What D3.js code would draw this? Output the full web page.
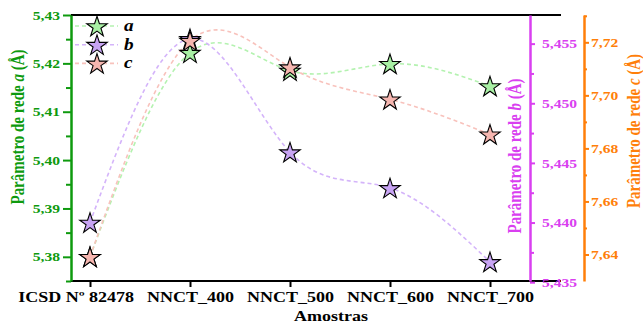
<!DOCTYPE html>
<html><head><meta charset="utf-8">
<script src="https://cdn.jsdelivr.net/npm/d3@7/dist/d3.min.js"></script>
<style>body{margin:0;background:#fff}svg{display:block}
svg text{font-family:"Liberation Serif","Times New Roman","DejaVu Serif",serif !important;font-weight:bold}</style>
</head><body>
<script>
const categories = ["ICSD Nº 82478","NNCT_400","NNCT_500","NNCT_600","NNCT_700"];
const seriesA = [5.3800, 5.4222, 5.4185, 5.4199, 5.4153];
const seriesB = [5.4400, 5.4554, 5.4459, 5.4429, 5.4367];
const seriesC = [7.6391, 7.7206, 7.7106, 7.6985, 7.6853];
const ticksA = [5.38, 5.39, 5.40, 5.41, 5.42, 5.43];
const ticksB = [5.435, 5.440, 5.445, 5.450, 5.455];
const ticksC = [7.64, 7.66, 7.68, 7.70, 7.72];
const fmt2 = v => v.toFixed(2).replace(".", ",");
const fmt3 = v => v.toFixed(3).replace(".", ",");

const W = 643, H = 324, SX = 1.2;
const pTop = 15, pBottom = 281, pLeft = 71, frameRight = 561, axB = 530, axC = 584;
const green = "#0e9a0e", magenta = "#d93ff0", orange = "#ff7f0a";

const svg = d3.select("body").append("svg").attr("width", W).attr("height", H);

const x = d3.scaleLinear().domain([0, 4]).range([90, 490]);
const yA = d3.scaleLinear().domain([5.375, 5.43]).range([pBottom, pTop]);
const yB = d3.scaleLinear().domain([5.4351, 5.4574]).range([pBottom, pTop]);
const yC = d3.scaleLinear().domain([7.63, 7.7303]).range([pBottom, pTop]);

svg.append("line").attr("x1", pLeft).attr("x2", frameRight).attr("y1", pTop).attr("y2", pTop).attr("stroke", "#000").attr("stroke-width", 2);

// X axis
const xAxis = svg.append("g").attr("transform", `translate(0,${pBottom})`)
  .call(d3.axisBottom(x).tickValues([0,1,2,3,4]).tickFormat(i => categories[i]).tickSize(6).tickPadding(2).tickSizeOuter(0));
xAxis.select(".domain").remove();
xAxis.selectAll(".tick line").attr("stroke", "#000").attr("stroke-width", 2);
xAxis.selectAll(".tick text").attr("font-size", 15).attr("fill", "#000").attr("dy", "0.9em")
  .attr("transform", `scale(${SX},1)`).attr("x", (d, i) => i === 0 ? -12 : 0);
svg.append("line").attr("x1", pLeft).attr("x2", frameRight).attr("y1", pBottom).attr("y2", pBottom).attr("stroke", "#000").attr("stroke-width", 2);

// left axis A
const minorA = d3.range(0, 12).map(i => 5.375 + i * 0.005).filter(v => !ticksA.some(t => Math.abs(t - v) < 1e-6));
const gA = svg.append("g").attr("transform", `translate(${pLeft},0)`);
gA.call(d3.axisLeft(yA).tickValues(minorA).tickSize(5).tickFormat("").tickSizeOuter(0));
gA.select(".domain").attr("stroke", green).attr("stroke-width", 2.5);
gA.selectAll(".tick line").attr("stroke", green).attr("stroke-width", 2);
const gA2 = svg.append("g").attr("transform", `translate(${pLeft},0)`)
  .call(d3.axisLeft(yA).tickValues(ticksA).tickFormat(fmt2).tickSize(8).tickSizeOuter(0));
gA2.select(".domain").remove();
gA2.selectAll(".tick line").attr("stroke", green).attr("stroke-width", 2);
gA2.selectAll(".tick text").attr("fill", green).attr("font-size", 13).attr("x", -11 / SX)
  .attr("transform", `scale(${SX},1)`);

// magenta axis B
const minorB = d3.range(0, 5).map(i => 5.4375 + i * 0.005).filter(v => v < 5.4574);
const gB = svg.append("g").attr("transform", `translate(${axB},0)`);
gB.call(d3.axisRight(yB).tickValues(minorB).tickSize(4).tickFormat("").tickSizeOuter(0));
gB.select(".domain").attr("stroke", magenta).attr("stroke-width", 2.5);
gB.selectAll(".tick line").attr("stroke", magenta).attr("stroke-width", 2);
const gB2 = svg.append("g").attr("transform", `translate(${axB},0)`)
  .call(d3.axisRight(yB).tickValues(ticksB).tickFormat(fmt3).tickSize(5).tickSizeOuter(0));
gB2.select(".domain").remove();
gB2.selectAll(".tick line").attr("stroke", magenta).attr("stroke-width", 2);
gB2.selectAll(".tick text").attr("fill", magenta).attr("font-size", 13).attr("x", 12 / SX)
  .attr("transform", `scale(${SX},1)`);

// orange axis C
const minorC = d3.range(0, 5).map(i => 7.65 + i * 0.02);
const gC = svg.append("g").attr("transform", `translate(${axC},0)`);
gC.call(d3.axisRight(yC).tickValues(minorC).tickSize(3).tickFormat("").tickSizeOuter(0));
gC.select(".domain").attr("stroke", orange).attr("stroke-width", 2.5);
gC.selectAll(".tick line").attr("stroke", orange).attr("stroke-width", 2);
const gC2 = svg.append("g").attr("transform", `translate(${axC},0)`)
  .call(d3.axisRight(yC).tickValues(ticksC).tickFormat(fmt2).tickSize(5).tickSizeOuter(0));
gC2.select(".domain").remove();
gC2.selectAll(".tick line").attr("stroke", orange).attr("stroke-width", 2);
gC2.selectAll(".tick text").attr("fill", orange).attr("font-size", 13).attr("x", 7 / SX)
  .attr("transform", `scale(${SX},1)`);

function vTitle(xp, yp, color, letter) {
  const t = svg.append("text").attr("transform", `translate(${xp},${yp}) scale(${SX},1) rotate(-90)`)
    .attr("text-anchor", "middle").attr("fill", color).attr("font-size", 15);
  t.append("tspan").text("Parâmetro de rede ");
  t.append("tspan").attr("font-style", "italic").text(letter);
  t.append("tspan").text(" (Å)");
}
vTitle(24, 127, green, "a");
vTitle(521, 156, magenta, "b");
vTitle(640, 131, orange, "c");

svg.append("text").attr("transform", `translate(331,321) scale(${SX},1)`).attr("text-anchor", "middle")
  .attr("font-size", 15).attr("fill", "#000").text("Amostras");

const series = [
  {name: "a", vals: seriesA, y: yA, line: "#b4f2b0", fill: "#a8f0a4"},
  {name: "b", vals: seriesB, y: yB, line: "#d4b4fa", fill: "#c8a4f4"},
  {name: "c", vals: seriesC, y: yC, line: "#f8c2bc", fill: "#f6b6b0"}
];
const star = d3.symbol().type(d3.symbolStar).size(130);
series.forEach(s => {
  const ln = d3.line().x((d, i) => x(i)).y(d => s.y(d)).curve(d3.curveNatural);
  svg.append("path").attr("d", ln(s.vals)).attr("fill", "none").attr("stroke", s.line)
    .attr("stroke-width", 1.6).attr("stroke-dasharray", "4,3");
});
series.forEach(s => {
  svg.append("g").selectAll("path").data(s.vals).join("path")
    .attr("transform", (d, i) => `translate(${x(i)},${s.y(d) + 1})`)
    .attr("d", star).attr("fill", s.fill).attr("stroke", "#000").attr("stroke-width", 1.1);
});

series.forEach((s, i) => {
  const yy = 26 + i * 18.7;
  svg.append("line").attr("x1", 75).attr("x2", 118).attr("y1", yy).attr("y2", yy)
    .attr("stroke", s.line).attr("stroke-width", 1.6).attr("stroke-dasharray", "4,3");
  svg.append("path").attr("transform", `translate(97,${yy + 1})`).attr("d", star)
    .attr("fill", s.fill).attr("stroke", "#000").attr("stroke-width", 1.1);
  svg.append("text").attr("transform", `translate(124,${yy + 5}) scale(${SX},1)`).attr("font-style", "italic")
    .attr("font-size", 16).attr("fill", "#000").text(s.name);
});
</script>
</body></html>
